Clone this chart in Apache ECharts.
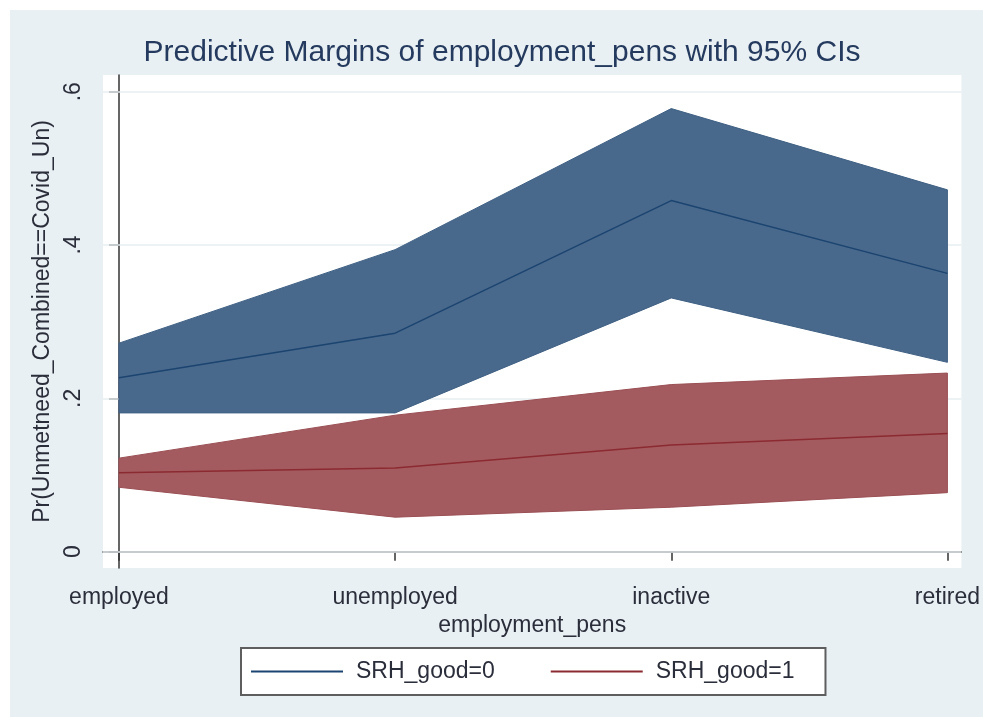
<!DOCTYPE html>
<html>
<head>
<meta charset="utf-8">
<script src="https://cdn.jsdelivr.net/npm/echarts@6/dist/echarts.min.js"></script>
<style>
  html, body { margin: 0; padding: 0; background: #ffffff; }
  #chart { width: 983px; height: 717px; }
</style>
</head>
<body>
<div id="chart"></div>
<script>
// categories of employment_pens (x = 0..3)
var categories = ["employed", "unemployed", "inactive", "retired"];
var xPos = [0, 1, 2, 3];

// SRH_good=0
var blueMean = [0.227, 0.285, 0.458, 0.363];
var blueLow = [0.181, 0.181, 0.331, 0.247];
var blueHigh = [0.272, 0.394, 0.578, 0.472];

// SRH_good=1
var redMean = [0.103, 0.109, 0.139, 0.154];
var redLow = [0.084, 0.045, 0.058, 0.077];
var redHigh = [0.122, 0.178, 0.218, 0.233];

var yTicks = [0, 0.2, 0.4, 0.6];
var yTickLabels = ["0", ".2", ".4", ".6"];

var font = "'Liberation Sans', Arial, sans-serif";
var textColor = "#2a2d3a";

function pairs(vals) {
  return xPos.map(function (x, i) { return [x, vals[i]]; });
}

// confidence band as one polygon, drawn through the axes with api.coord
function band(lo, hi, fill, stroke) {
  return {
    type: "custom",
    data: xPos.map(function (x, i) { return [x, lo[i], hi[i]]; }),
    encode: { x: 0, y: [1, 2] },
    z: 3,
    silent: true,
    renderItem: function (params, api) {
      if (params.dataIndex !== 0) return;
      var pts = [];
      xPos.forEach(function (x, i) { pts.push(api.coord([x, hi[i]])); });
      for (var i = xPos.length - 1; i >= 0; i--) pts.push(api.coord([xPos[i], lo[i]]));
      return {
        type: "polygon",
        shape: { points: pts },
        style: { fill: fill, stroke: stroke, lineWidth: 1 }
      };
    }
  };
}

var chart = echarts.init(document.getElementById("chart"));
chart.setOption({
  backgroundColor: "#ffffff",
  animation: false,
  graphic: [
    {
      type: "rect",
      z: -10,
      shape: { x: 10, y: 10, width: 973, height: 707 },
      style: { fill: "#e9f0f3" }
    }
  ],
  title: {
    text: "Predictive Margins of employment_pens with 95% CIs",
    left: 497,
    textAlign: "center",
    top: 33,
    textStyle: { fontFamily: font, fontSize: 30, fontWeight: "normal", color: "#243a5e" }
  },
  grid: {
    left: 103,
    right: 20,
    top: 75,
    bottom: 149,
    show: true,
    backgroundColor: "#ffffff",
    borderWidth: 0
  },
  legend: {
    data: ["SRH_good=0", "SRH_good=1"],
    left: 241,
    top: 648,
    icon: "rect",
    itemWidth: 92,
    itemHeight: 2,
    itemGap: 56,
    padding: [12, 31, 12, 10],
    backgroundColor: "#ffffff",
    borderColor: "#5e5e5e",
    borderWidth: 2,
    textStyle: { fontFamily: font, fontSize: 23, color: textColor, padding: [0, 0, 0, 8] }
  },
  xAxis: {
    type: "value",
    min: -0.0578,
    max: 3.0506,
    name: "employment_pens",
    nameLocation: "middle",
    nameGap: 45,
    nameTextStyle: { fontFamily: font, fontSize: 23, color: textColor },
    axisLine: { show: true, lineStyle: { color: "#333333", width: 1.5 } },
    axisTick: { show: true, length: 9, customValues: xPos, lineStyle: { color: "#333333", width: 1.5 } },
    axisLabel: {
      customValues: xPos,
      margin: 18,
      fontFamily: font,
      fontSize: 23,
      color: textColor,
      formatter: function (v) { return categories[Math.round(v)]; }
    },
    splitLine: { show: false }
  },
  yAxis: {
    type: "value",
    min: -0.0213,
    max: 0.6218,
    name: "Pr(Unmetneed_Combined==Covid_Un)",
    nameLocation: "middle",
    nameGap: 31,
    nameTextStyle: { fontFamily: font, fontSize: 23, color: textColor },
    axisLine: { show: true, lineStyle: { color: "#333333", width: 1.5 } },
    axisTick: { show: true, length: 10, customValues: yTicks, lineStyle: { color: "#333333", width: 1.5 } },
    axisLabel: {
      customValues: yTicks,
      rotate: 90,
      margin: 18,
      fontFamily: font,
      fontSize: 23,
      color: textColor,
      formatter: function (v) {
        var i = yTicks.findIndex(function (t) { return Math.abs(t - v) < 1e-6; });
        return i >= 0 ? yTickLabels[i] : "";
      }
    },
    splitLine: { show: false }
  },
  series: [
    {
      name: "grid",
      type: "line",
      data: [],
      z: 1,
      markLine: {
        z: 1,
        silent: true,
        symbol: "none",
        label: { show: false },
        lineStyle: { color: "#e7eff2", width: 1.5, type: "solid" },
        data: yTicks.map(function (t) { return { yAxis: t }; })
      }
    },
    band(blueLow, blueHigh, "#49698c", "#3f6084"),
    band(redLow, redHigh, "#a45b5f", "#9a4f54"),
    {
      name: "SRH_good=0",
      type: "line",
      data: pairs(blueMean),
      symbol: "none",
      color: "#1b4470",
      lineStyle: { color: "#1b4470", width: 1.5 },
      z: 4
    },
    {
      name: "SRH_good=1",
      type: "line",
      data: pairs(redMean),
      symbol: "none",
      color: "#8c2a31",
      lineStyle: { color: "#8c2a31", width: 1.5 },
      z: 4
    }
  ]
});
</script>
</body>
</html>
